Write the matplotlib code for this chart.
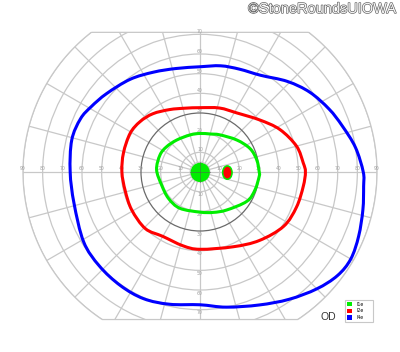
import numpy as np
import matplotlib
matplotlib.use("Agg")
from matplotlib import pyplot as plt
from matplotlib.patches import Ellipse, Circle, Polygon, Patch, PathPatch
from matplotlib.path import Path
import matplotlib.patheffects as pe

# isopters: meridian in degrees (0 = right, counter-clockwise), eccentricity in degrees
i4e_merid = [0, 9, 18, 26, 36, 46, 58, 69, 79, 90, 103, 115, 127, 140, 149, 156, 166,
             180, 194, 211, 223, 235, 246, 257, 270, 281, 294, 305, 315, 323, 330, 338, 347, 355]
i4e_ecc = [83, 80, 76, 73, 69, 64, 58, 56, 55, 53.5, 54, 56, 59, 62, 64.5, 66.5, 67.2,
           66, 66, 69, 70, 70.5, 70.5, 69, 67.5, 70, 74, 79, 84, 87.5, 88.5, 87, 85, 83.5]

i2e_merid = [0, 5, 15, 28, 41, 58, 73, 90, 103, 116, 129, 140, 151, 166, 180, 194, 209,
             226, 240, 257, 270, 294, 311, 327, 340, 352]
i2e_ecc = [53.6, 52.7, 50.8, 46, 40.3, 35.4, 34, 32.7, 33.3, 35.3, 38.1, 39.8, 40.6, 40.1,
           39.7, 39.2, 39.7, 40, 37.8, 38.5, 39.3, 41.6, 46.1, 50.7, 52.2, 53]

i1e_merid = [0, 12, 25, 41, 62, 75, 90, 105, 126, 143, 157, 177, 199, 220, 241, 270, 288,
             305, 328, 342, 356]
i1e_ecc = [30.1, 29.5, 28.1, 24.8, 21.4, 20.0, 19.6, 19.5, 20.1, 21.3, 22.1, 22.1, 20.6,
           20.9, 21.1, 20.4, 21.6, 23.6, 28.1, 29.4, 30.2]

# central I1e island and small I2e/I1e spot
blob_center = (0.1, -0.2)
blob_radius = 4.9
spot_center = (13.9, -0.3)
spot_i2e_size = (4.0, 6.0)
spot_i1e_size = (5.6, 7.6)

rings = [5, 10, 20, 30, 40, 50, 60, 70, 80, 90]
meridians = np.arange(0, 360, 15)
h_labels = [10, 20, 30, 40, 50, 60, 70, 80, 90]
v_labels = [10, 20, 30, 40, 50, 60, 70]
top_limit = 71
bottom_limit = -75

legend_names = ["I1e", "I2e", "I4e"]
colors = ["#00ee00", "#ff0000", "#0000ff"]

grid_col = "#c8c8c8"
label_col = "#a0a0a0"


def isopter_path(merid, ecc):
    # closed smooth curve through the read points (catmull-rom as bezier)
    t = np.radians(merid)
    e = np.asarray(ecc, dtype=float)
    p = np.column_stack([e * np.cos(t), e * np.sin(t)])
    n = len(p)
    verts = [p[0]]
    codes = [Path.MOVETO]
    for i in range(n):
        p0, p1, p2, p3 = p[i - 1], p[i], p[(i + 1) % n], p[(i + 2) % n]
        verts += [p1 + (p2 - p0) / 6, p2 - (p3 - p1) / 6, p2]
        codes += [Path.CURVE4] * 3
    return Path(verts, codes)


fig = plt.figure(figsize=(4, 3.52), dpi=100)
ax = fig.add_axes([0, 0, 1, 1])
ax.set_xlim(-200 / 1.967, 200 / 1.967)
ax.set_ylim(-180 / 1.967, 172 / 1.967)
ax.axis("off")

# chart region: 90 deg circle cut at top and bottom
tt = np.linspace(0, 2 * np.pi, 721)
bx = 90 * np.cos(tt)
by = np.clip(90 * np.sin(tt), bottom_limit, top_limit)
region = Polygon(np.column_stack([bx, by]), closed=True, facecolor="none",
                 edgecolor=grid_col, lw=0.9, zorder=1)
ax.add_patch(region)

for r in rings:
    col = "#6a6a6a" if r == 30 else grid_col
    c = Circle((0, 0), r, facecolor="none", edgecolor=col, lw=0.9, zorder=1.2 if r == 30 else 1)
    ax.add_patch(c)
    c.set_clip_path(region)

for m in meridians:
    t = np.radians(m)
    ln, = ax.plot([0, 90 * np.cos(t)], [0, 90 * np.sin(t)], color=grid_col, lw=0.9, zorder=1)
    ln.set_clip_path(region)

for v in h_labels:
    for s in (-1, 1):
        ax.text(s * v, 0.4, str(v), fontsize=3.3, color=label_col, ha="center", va="bottom", zorder=1.5)
for v in v_labels:
    ax.text(0, v, str(v), fontsize=3.3, color=label_col, ha="center", va="bottom", zorder=1.5)
    ax.text(0, -v - 0.3, str(v), fontsize=3.3, color=label_col, ha="center", va="top", zorder=1.5)

# isopters
for merid, ecc, col in [(i1e_merid, i1e_ecc, colors[0]),
                        (i2e_merid, i2e_ecc, colors[1]),
                        (i4e_merid, i4e_ecc, colors[2])]:
    ax.add_patch(PathPatch(isopter_path(merid, ecc), facecolor="none", edgecolor=col,
                           lw=2.2, joinstyle="round", zorder=4))

ax.add_patch(Circle(blob_center, blob_radius, facecolor=colors[0], edgecolor="none", zorder=2.5))
ax.add_patch(Ellipse(spot_center, *spot_i1e_size, facecolor=colors[0], edgecolor="none", zorder=4.5))
ax.add_patch(Ellipse(spot_center, *spot_i2e_size, facecolor=colors[1], edgecolor="none", zorder=4.6))

# cross lines drawn over the central island
ax.plot([-blob_radius, blob_radius], [0, 0], color="#555555", lw=0.7, alpha=0.5, zorder=3)
ax.plot([0, 0], [-blob_radius, blob_radius], color="#555555", lw=0.7, alpha=0.5, zorder=3)

handles = [Patch(facecolor=c, edgecolor="none", label=n) for c, n in zip(colors, legend_names)]
leg = ax.legend(handles=handles, loc="lower left",
                bbox_to_anchor=(345 / 400, 1 - 322 / 352, 28 / 400, 24 / 352),
                mode="expand", fontsize=3.3, handlelength=1.1, handleheight=1.1,
                handletextpad=1.0, borderpad=0.45, labelspacing=0.35, borderaxespad=0,
                fancybox=False, edgecolor="#c8c8c8", framealpha=1)
leg.get_frame().set_linewidth(0.8)

ax.text(65.1, -73.7, "OD", fontsize=7.5, color="#333333", ha="center", va="center",
        family="Liberation Sans")

fig.text(397 / 400, 1 - 9 / 352, "\u00a9StoneRoundsUIOWA", ha="right", va="center",
         fontsize=10.5, family="Liberation Sans", color="#f4f4f4",
         path_effects=[pe.withStroke(linewidth=0.9, foreground="#5a5a5a")])

fig.savefig("out.png", dpi=100)
